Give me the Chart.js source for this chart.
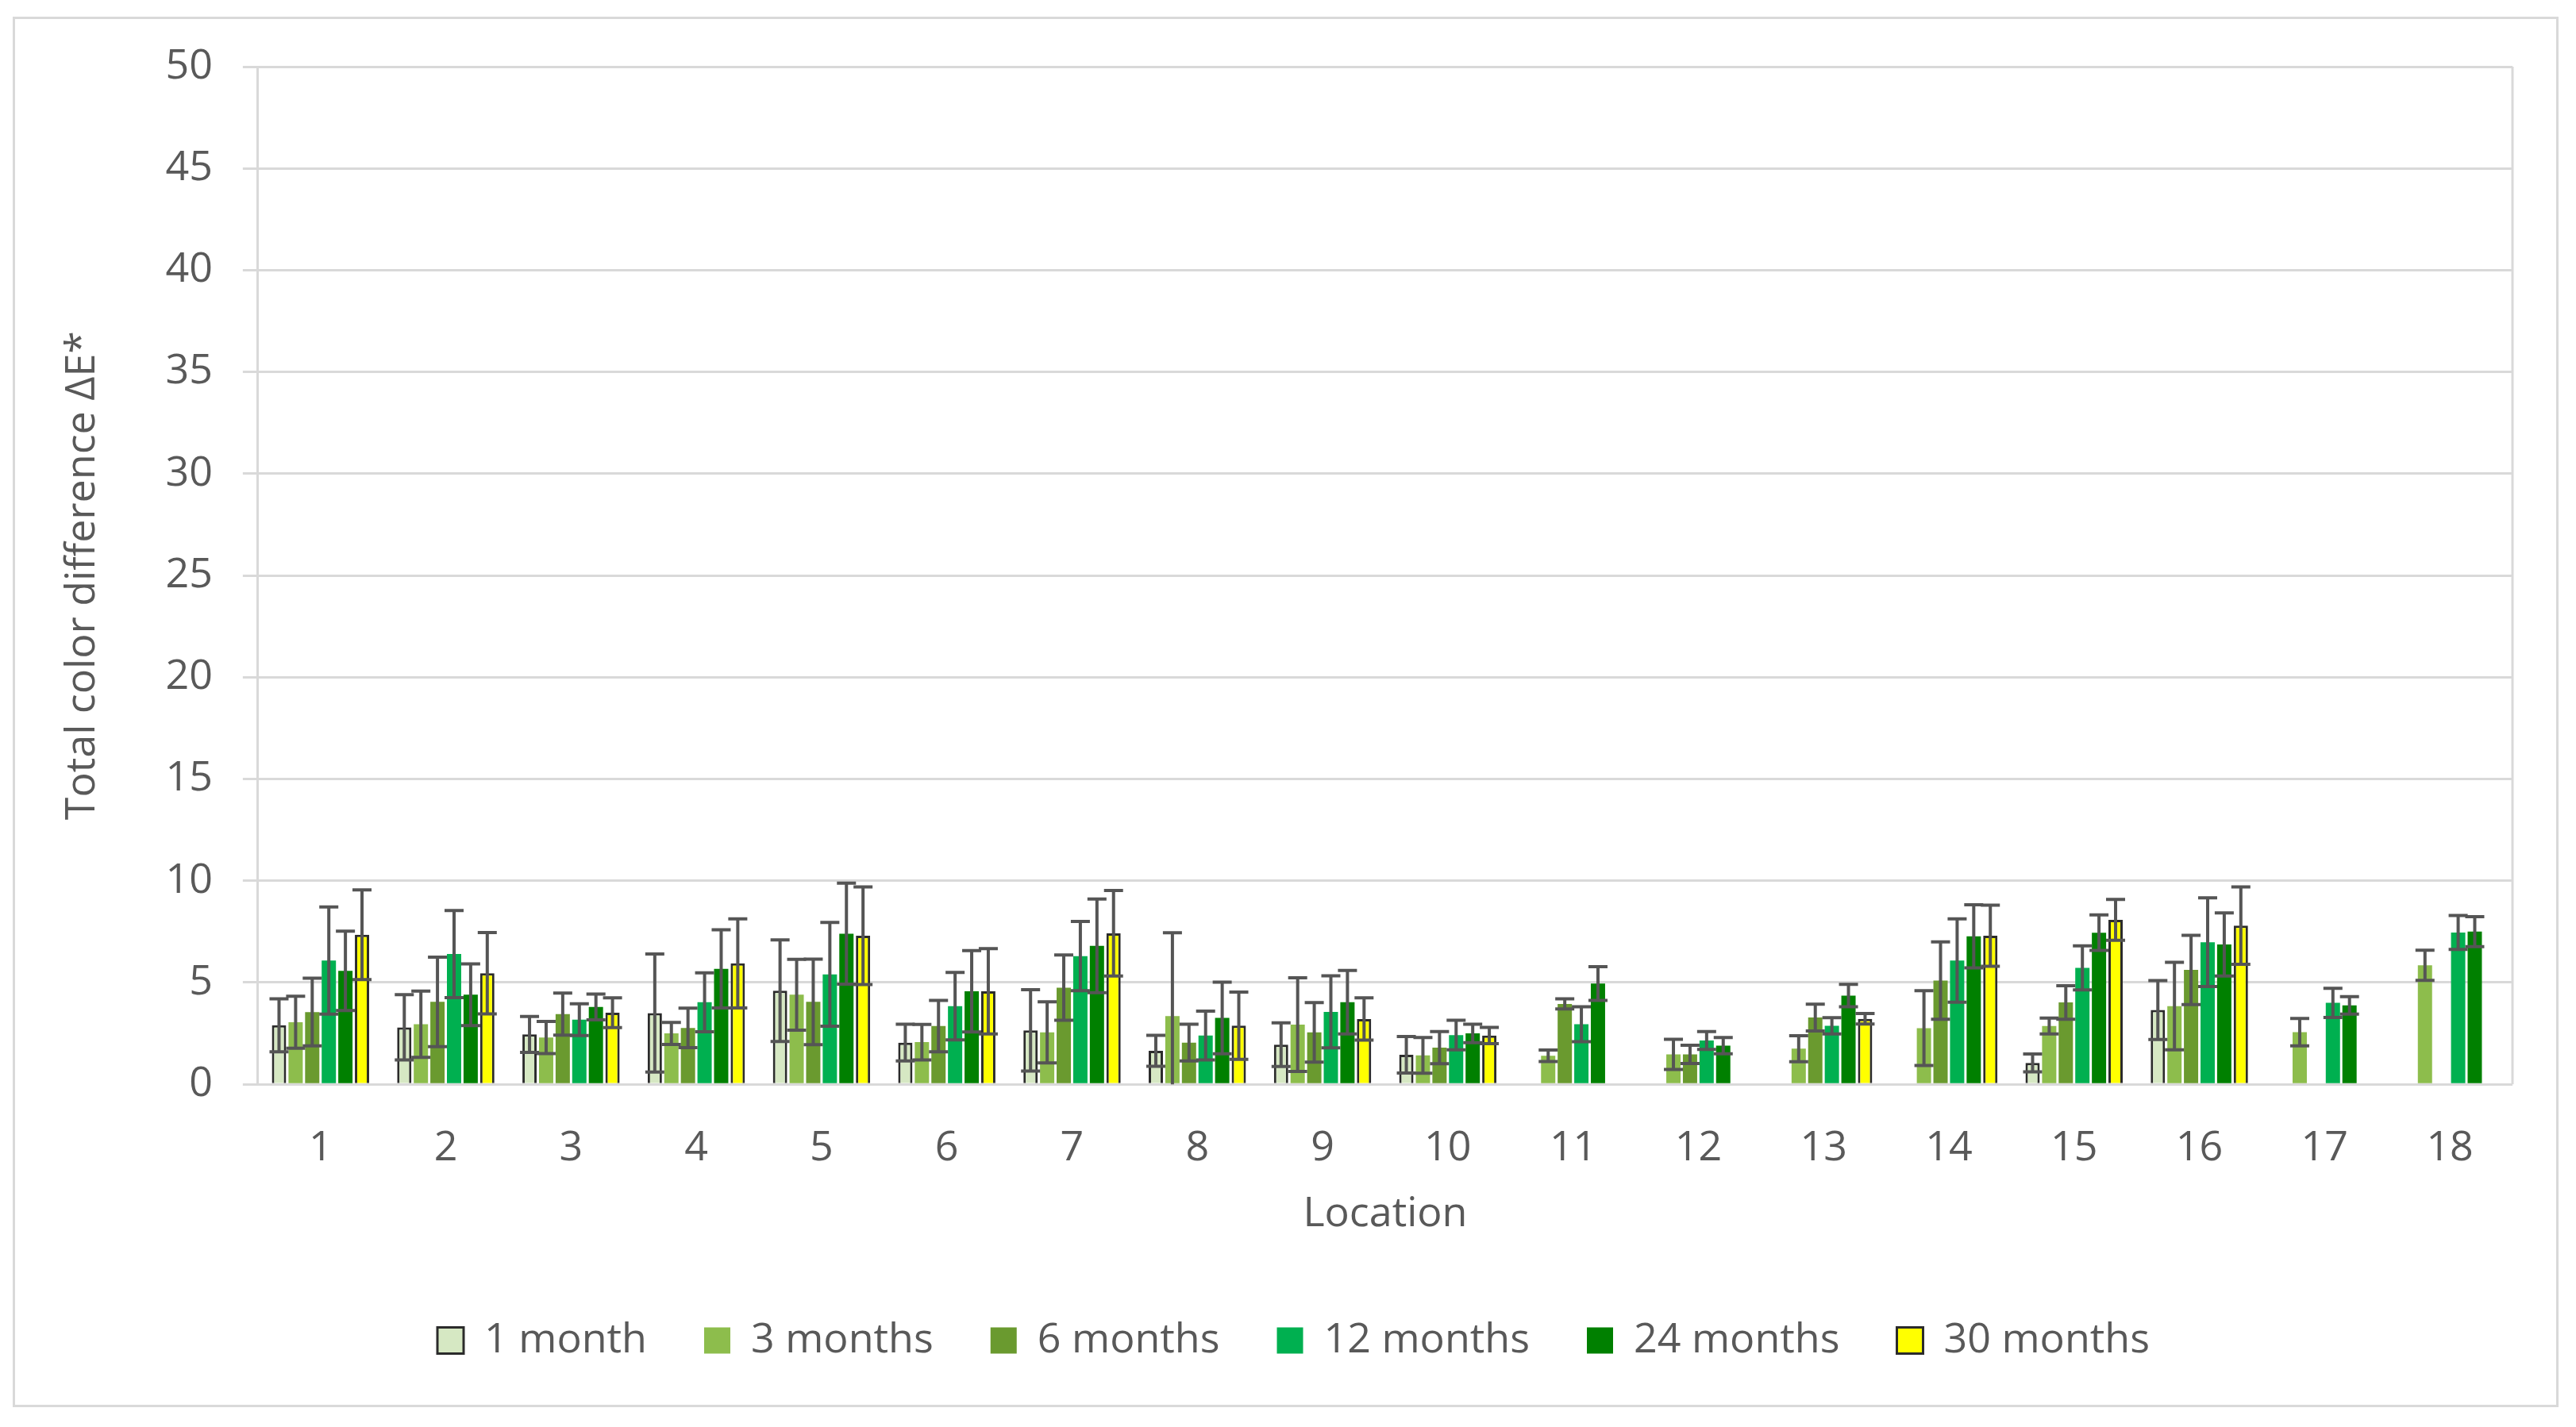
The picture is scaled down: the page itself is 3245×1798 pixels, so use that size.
<!DOCTYPE html>
<html>
<head>
<meta charset="utf-8">
<script src="https://cdn.jsdelivr.net/npm/chart.js@4.4.1/dist/chart.umd.min.js"></script>
<style>
  body { margin: 0; background: #fff; }
  canvas { display: block; }
</style>
</head>
<body>
<canvas id="chart" width="3245" height="1798"></canvas>
<script>
// locations on the x axis
var locations = ['1','2','3','4','5','6','7','8','9','10','11','12','13','14','15','16','17','18'];
var yTicks = [0, 5, 10, 15, 20, 25, 30, 35, 40, 45, 50];

// mean dE* per period (null = not measured)
var m1  = [2.90, 2.80, 2.45, 3.50, 4.60, 2.05, 2.65, 1.65, 1.95, 1.45, null, null, null, null, 1.05, 3.65, null, null];
var m3  = [3.05, 2.95, 2.30, 2.50, 4.40, 2.07, 2.55, 3.35, 2.93, 1.42, 1.40, 1.47, 1.75, 2.76, 2.86, 3.84, 2.56, 5.85];
var m6  = [3.55, 4.05, 3.45, 2.77, 4.05, 2.86, 4.75, 2.05, 2.55, 1.80, 3.95, 1.47, 3.28, 5.10, 4.02, 5.62, null, null];
var m12 = [6.08, 6.40, 3.18, 4.03, 5.40, 3.84, 6.30, 2.40, 3.56, 2.42, 2.95, 2.15, 2.87, 6.08, 5.72, 6.98, 4.00, 7.46];
var m24 = [5.57, 4.40, 3.80, 5.67, 7.40, 4.57, 6.80, 3.26, 4.03, 2.50, 4.95, 1.90, 4.36, 7.27, 7.45, 6.87, 3.88, 7.50];
var m30 = [7.35, 5.46, 3.52, 5.94, 7.30, 4.57, 7.42, 2.88, 3.21, 2.40, null, null, 3.22, 7.30, 8.08, 7.80, null, null];

// standard deviations (error bars)
var m1Err  = [1.30, 1.60, 0.88, 2.90, 2.50, 0.90, 2.00, 0.76, 1.07, 0.90, null, null, null, null, 0.44, 1.45, null, null];
var m3Err  = [1.28, 1.63, 0.79, 0.54, 1.74, 0.87, 1.50, 4.10, 2.30, 0.88, 0.28, 0.74, 0.64, 1.84, 0.39, 2.15, 0.67, 0.74];
var m6Err  = [1.66, 2.20, 1.03, 0.97, 2.10, 1.26, 1.60, 0.90, 1.46, 0.79, 0.25, 0.45, 0.66, 1.90, 0.82, 1.70, null, null];
var m12Err = [2.63, 2.14, 0.78, 1.45, 2.55, 1.66, 1.70, 1.20, 1.77, 0.73, 0.86, 0.44, 0.40, 2.05, 1.08, 2.18, 0.72, 0.83];
var m24Err = [1.95, 1.52, 0.63, 1.92, 2.48, 2.00, 2.30, 1.76, 1.56, 0.45, 0.83, 0.40, 0.55, 1.55, 0.87, 1.55, 0.43, 0.74];
var m30Err = [2.20, 2.00, 0.73, 2.19, 2.40, 2.10, 2.10, 1.65, 1.04, 0.40, null, null, 0.26, 1.50, 1.00, 1.90, null, null];

var seriesNames = ['1 month', '3 months', '6 months', '12 months', '24 months', '30 months'];

var textColor = '#595959';
var gridColor = '#d9d9d9';
var fontFam = "'Open Sans', sans-serif";

function ds(i, data, err, color, outlined){
  return {
    label: seriesNames[i],
    data: data,
    errors: err,
    backgroundColor: color,
    borderColor: outlined ? '#2b2b2b' : color,
    borderWidth: outlined ? 3 : 0,
    categoryPercentage: 0.795,
    barPercentage: 0.86
  };
}

// error bars, drawn from the bar elements and the y scale
var errorBars = {
  id: 'errorBars',
  afterDatasetsDraw: function(chart){
    var ctx = chart.ctx;
    var y = chart.scales.y;
    ctx.save();
    ctx.strokeStyle = '#555555';
    ctx.lineWidth = 4;
    chart.data.datasets.forEach(function(d, i){
      var meta = chart.getDatasetMeta(i);
      meta.data.forEach(function(bar, j){
        var v = d.data[j], e = d.errors[j];
        if(v == null || e == null) return;
        var x = bar.x;
        var top = y.getPixelForValue(v + e);
        var lo = v - e;
        var bot = y.getPixelForValue(Math.max(lo, 0));
        ctx.beginPath();
        ctx.moveTo(x, top); ctx.lineTo(x, bot);
        ctx.moveTo(x - 12, top); ctx.lineTo(x + 12, top);
        if(lo >= 0){
          ctx.moveTo(x - 12, bot); ctx.lineTo(x + 12, bot);
        }
        ctx.stroke();
      });
    });
    ctx.restore();
  }
};

// outer frame and right edge of plot
var frame = {
  id: 'frame',
  beforeDraw: function(chart){
    var ctx = chart.ctx;
    ctx.save();
    ctx.fillStyle = '#fff';
    ctx.fillRect(0, 0, chart.width, chart.height);
    ctx.strokeStyle = gridColor;
    ctx.lineWidth = 3;
    ctx.strokeRect(17.5, 22.5, 3204, 1749);
    ctx.restore();
  },
  beforeDatasetsDraw: function(chart){
    var a = chart.chartArea, ctx = chart.ctx;
    ctx.save();
    ctx.strokeStyle = gridColor;
    ctx.lineWidth = 3;
    ctx.beginPath();
    ctx.moveTo(a.right, a.top);
    ctx.lineTo(a.right, a.bottom);
    ctx.stroke();
    ctx.restore();
  }
};

new Chart(document.getElementById('chart'), {
  type: 'bar',
  data: {
    labels: locations,
    datasets: [
      ds(0, m1, m1Err, '#d6e8c3', true),
      ds(1, m3, m3Err, '#8dbd4c', false),
      ds(2, m6, m6Err, '#6a9a2f', false),
      ds(3, m12, m12Err, '#00b050', false),
      ds(4, m24, m24Err, '#008000', false),
      ds(5, m30, m30Err, '#ffff00', true)
    ]
  },
  options: {
    responsive: false,
    animation: false,
    devicePixelRatio: 1,
    layout: { padding: { left: 94, right: 80, top: 84, bottom: 73 } },
    plugins: {
      tooltip: { enabled: false },
      legend: {
        position: 'bottom',
        labels: {
          boxWidth: 33,
          boxHeight: 33,
          padding: 72,
          color: textColor,
          font: { family: fontFam, size: 52 }
        }
      }
    },
    scales: {
      x: {
        grid: { display: false, drawTicks: false },
        border: { display: false },
        ticks: { color: textColor, padding: 50, font: { family: fontFam, size: 52 } },
        title: {
          display: true,
          text: 'Location',
          color: textColor,
          padding: { top: -30, bottom: 30 },
          font: { family: fontFam, size: 52 }
        }
      },
      y: {
        min: 0,
        max: 50,
        afterBuildTicks: function(s){ s.ticks = yTicks.map(function(v){ return { value: v }; }); },
        grid: { color: gridColor, lineWidth: 3, tickLength: 19 },
        border: { color: gridColor, width: 3 },
        ticks: { color: textColor, padding: 38, font: { family: fontFam, size: 52 } },
        title: {
          display: true,
          text: 'Total color difference ΔE*',
          color: textColor,
          padding: { top: -21, bottom: 35 },
          font: { family: fontFam, size: 52 }
        }
      }
    }
  },
  plugins: [frame, errorBars]
});
</script>
</body>
</html>
